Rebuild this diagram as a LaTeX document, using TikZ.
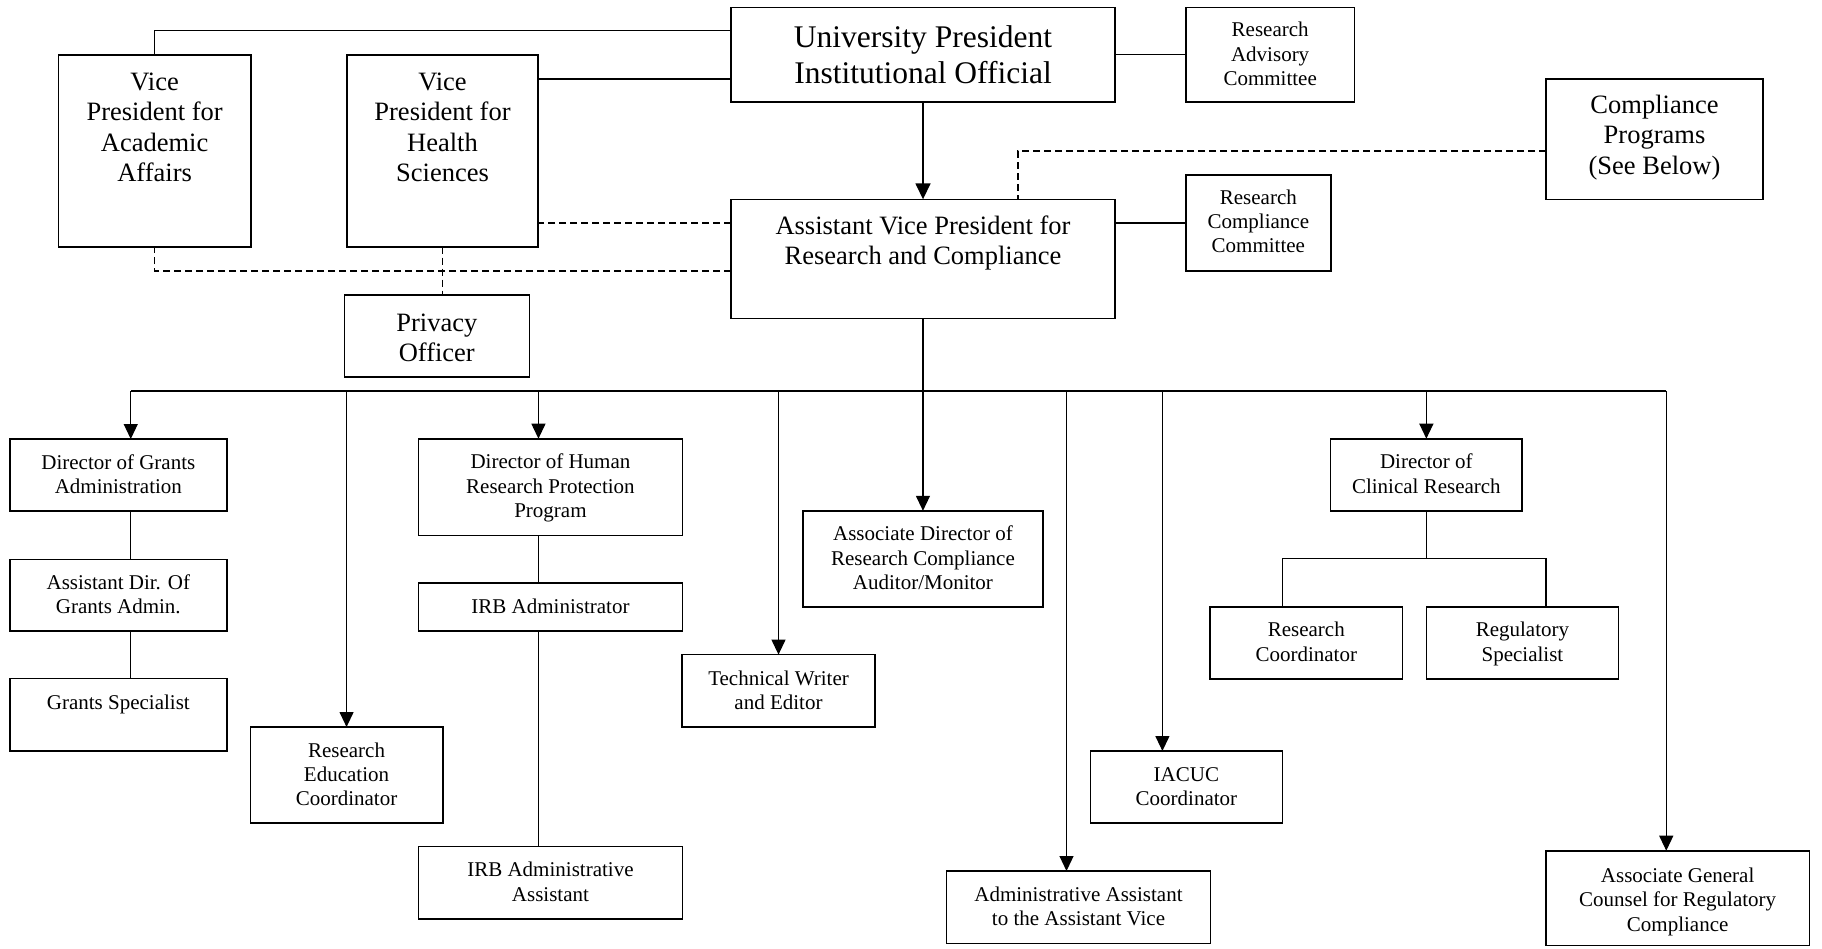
\documentclass[tikz,border=0pt]{standalone}
\usepackage{fontspec}
\setmainfont{Liberation Serif}
\usetikzlibrary{arrows.meta,calc}
\def\BusDrop{72.6}
\def\ForkDrop{47.8}
\newcommand{\orgtext}[4]{\parbox[c][#2pt][t]{#1pt}{\centering\rule{0pt}{#3pt}#4\par}}

\begin{document}
\begin{tikzpicture}[x=1pt,y=-1pt,
  unit/.style={draw, line width=1.6pt, inner sep=0pt, outer sep=0pt, anchor=north west},
  big/.style={font=\fontsize{31.5}{35.6}\selectfont},
  mid/.style={font=\fontsize{26.5}{30.6}\selectfont},
  small/.style={font=\fontsize{21}{24.4}\selectfont},
  link/.style={line width=1.6pt},
  thinlink/.style={line width=1.2pt},
  dashlink/.style={line width=1.6pt, dash pattern=on 7pt off 4pt},
  feed/.style={line width=1.2pt, -{Triangle[length=15pt,width=14pt]}}]
  \useasboundingbox (0,0) rectangle (1822,948);
  % upper level
  \node[unit, big] (pres) at (731,7.3) {\orgtext{384}{94.4}{40.4}{University President\\Institutional Official}};
  \node[unit, small] (rac) at (1186,7.3) {\orgtext{168.3}{94.4}{29.4}{Research\\Advisory\\Committee}};
  \node[unit, mid] (cp) at (1546,79) {\orgtext{217}{120.3}{34}{Compliance\\Programs\\(See Below)}};
  \node[unit, small] (rcc) at (1186,174.7) {\orgtext{144.7}{96.3}{29.3}{Research\\Compliance\\Committee}};
  \node[unit, mid] (avp) at (731,199.3) {\orgtext{384}{119}{34.7}{Assistant Vice President for\\Research and Compliance}};
  \node[unit, mid] (vpaa) at (58.3,55) {\orgtext{192.7}{191.7}{35}{Vice\\President for\\Academic\\Affairs}};
  \node[unit, mid] (vphs) at (347,55) {\orgtext{191}{191.7}{35}{Vice\\President for\\Health\\Sciences}};
  \node[unit, mid] (priv) at (344.3,295) {\orgtext{185}{81.7}{36}{Privacy\\Officer}};
  % lower level
  \node[unit, small] (dga) at (10,439) {\orgtext{216.7}{72}{30}{Director of Grants\\Administration}};
  \node[unit, small] (adg) at (10,559.3) {\orgtext{216.7}{71.4}{30}{Assistant Dir. Of\\Grants Admin.}};
  \node[unit, small] (gs) at (10,678.5) {\orgtext{216.7}{72.5}{31}{Grants Specialist}};
  \node[unit, small] (rec) at (250.4,727) {\orgtext{192.3}{96}{30}{Research\\Education\\Coordinator}};
  \node[unit, small] (dhrpp) at (418.3,438.7) {\orgtext{264.3}{96.7}{30}{Director of Human\\Research Protection\\Program}};
  \node[unit, small] (irba) at (418.3,583.2) {\orgtext{264.3}{47.8}{30.4}{IRB Administrator}};
  \node[unit, small] (irbaa) at (418.3,846.6) {\orgtext{264.3}{72.4}{30}{IRB Administrative\\Assistant}};
  \node[unit, small] (tw) at (682,654.6) {\orgtext{193}{72.4}{30.5}{Technical Writer\\and Editor}};
  \node[unit, small] (ad) at (802.8,510.8) {\orgtext{240.3}{96.3}{30}{Associate Director of\\Research Compliance\\Auditor/Monitor}};
  \node[unit, small] (aa) at (946.5,871) {\orgtext{264}{72.5}{30}{Administrative Assistant\\to the Assistant Vice}};
  \node[unit, small] (iacuc) at (1090.5,751) {\orgtext{191.8}{72}{30}{IACUC\\Coordinator}};
  \node[unit, small] (dcr) at (1330.5,438.7) {\orgtext{191.7}{72.1}{30}{Director of\\Clinical Research}};
  \node[unit, small] (rc) at (1210,606.8) {\orgtext{192.5}{72.4}{30}{Research\\Coordinator}};
  \node[unit, small] (rs) at (1426.3,606.8) {\orgtext{192.3}{72.4}{30}{Regulatory\\Specialist}};
  \node[unit, small] (agc) at (1546,850.7) {\orgtext{263.3}{94.6}{31.6}{Associate General\\Counsel for Regulatory\\Compliance}};
  % solid links at the top
  \coordinate (pa) at ([yshift=24pt]pres.west);
  \coordinate (ph) at ([yshift=-24.5pt]pres.west);
  \draw[link] (pa) -| (vpaa.north);
  \draw[link] (ph) -- (ph -| vphs.east);
  \draw[link] (pres.east) -- (rac.west);
  \draw[link, -{Triangle[length=16pt,width=15pt]}] (pres.south) -- (avp.north);
  \draw[link] (rcc.west) -- (rcc.west -| avp.east);
  % dashed links
  \coordinate (ah) at (avp.west |- rcc.west);
  \coordinate (av) at ([yshift=-12pt]avp.west);
  \coordinate (cpin) at ([yshift=-12pt]cp.west);
  \draw[dashlink] (ah) -- (ah -| vphs.east);
  \draw[dashlink] (av) -| (vpaa.south);
  \draw[dashlink] (vphs.south) -- (vphs.south |- priv.north);
  \draw[dashlink] (cpin) -| ([xshift=95pt]avp.north);
  % bus
  \coordinate (bus) at ([yshift=-\BusDrop pt]avp.south);
  \coordinate (t-dga) at ([xshift=12.4pt]dga.north);
  \coordinate (t-rec) at (rec.north);
  \coordinate (t-dhrpp) at ([xshift=-12pt]dhrpp.north);
  \coordinate (t-tw) at (tw.north);
  \coordinate (t-ad) at (ad.north);
  \coordinate (t-aa) at ([xshift=-12pt]aa.north);
  \coordinate (t-iacuc) at ([xshift=-24pt]iacuc.north);
  \coordinate (t-dcr) at (dcr.north);
  \coordinate (t-agc) at ([xshift=-11.4pt]agc.north);
  \draw[thinlink] (avp.south) -- (bus);
  \draw[line width=1.8pt] (bus -| t-dga) -- (bus -| t-agc);
  \foreach \n in {dga,rec,dhrpp,tw,ad,aa,iacuc,dcr,agc}
    \draw[feed] (bus -| t-\n) -- (t-\n);
  % chains
  \draw[thinlink] (t-dga |- dga.south) -- (t-dga |- adg.north);
  \draw[thinlink] (t-dga |- adg.south) -- (t-dga |- gs.north);
  \draw[thinlink] (t-dhrpp |- dhrpp.south) -- (t-dhrpp |- irba.north);
  \draw[thinlink] (t-dhrpp |- irba.south) -- (t-dhrpp |- irbaa.north);
  \coordinate (fork) at ([yshift=-\ForkDrop pt]dcr.south);
  \coordinate (t-rc) at ([xshift=-24pt]rc.north);
  \coordinate (t-rs) at ([xshift=23.5pt]rs.north);
  \draw[thinlink] (dcr.south) -- (fork);
  \draw[thinlink] (t-rc) |- (fork) -| (t-rs);
\end{tikzpicture}
\end{document}
